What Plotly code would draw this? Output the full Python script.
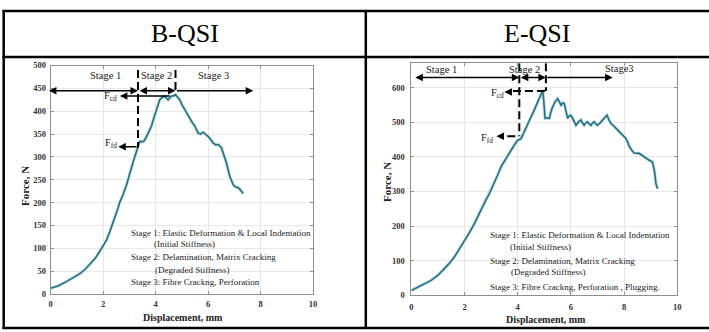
import plotly.graph_objects as go

W, H = 709, 332

# ---------------- data ----------------
b_disp = [0, 0.3, 0.6, 0.85, 1.1, 1.3, 1.49, 1.7, 1.87, 2.0, 2.13, 2.25, 2.38, 2.5, 2.57, 2.63,
          2.76, 2.9, 3.02, 3.15, 3.33, 3.4, 3.5, 3.58, 3.7, 3.84, 3.95, 4.03, 4.16, 4.25, 4.35,
          4.42, 4.48, 4.55, 4.6, 4.7, 4.76, 4.85, 4.92, 5.0, 5.11, 5.2, 5.3, 5.4, 5.5, 5.62,
          5.72, 5.81, 5.9, 6.0, 6.1, 6.2, 6.3, 6.39, 6.51, 6.6, 6.7, 6.83, 6.96, 7.05, 7.11,
          7.2, 7.28, 7.34]
b_force = [12.5, 18, 27, 35, 44, 53, 64, 78, 93, 105, 118, 135, 155, 175, 188, 200,
           217, 240, 265, 290, 322, 334, 333, 336, 350, 367, 388, 403, 425, 430, 433,
           428, 425, 430, 433, 434, 436, 430, 425, 415, 403, 393, 385, 375, 367, 352,
           350, 354, 350, 345, 338, 330, 326, 327, 320, 305, 287, 257, 239, 234, 234,
           230, 224, 220]

e_disp = [0, 0.3, 0.74, 1.0, 1.24, 1.4, 1.62, 1.8, 2.0, 2.2, 2.37, 2.5, 2.68, 2.8, 2.93, 3.1,
          3.25, 3.37, 3.55, 3.75, 3.9, 4.0, 4.06, 4.12, 4.2, 4.37, 4.5, 4.62, 4.75, 4.88, 4.94,
          4.98, 5.03, 5.1, 5.19, 5.25, 5.31, 5.4, 5.5, 5.56, 5.63, 5.7, 5.75, 5.82, 5.88, 5.94,
          6.0, 6.1, 6.19, 6.28, 6.38, 6.45, 6.5, 6.57, 6.63, 6.7, 6.76, 6.82, 6.88, 6.94, 7.0,
          7.1, 7.19, 7.28, 7.36, 7.44, 7.51, 7.6, 7.7, 7.82, 7.9, 7.95, 8.07, 8.15, 8.2, 8.3,
          8.38, 8.57, 8.65, 8.76, 8.85, 8.95, 9.07, 9.14, 9.2, 9.26]
e_force = [14, 25, 43, 58, 77, 90, 111, 133, 159, 183, 207, 228, 255, 275, 292, 320,
           348, 371, 395, 419, 437, 448, 450, 452, 465, 496, 515, 535, 558, 583, 592,
           560, 511, 512, 511, 530, 544, 558, 568, 560, 549, 556, 554, 530, 511, 518,
           520, 506, 491, 500, 506, 496, 491, 498, 501, 494, 491, 498, 501, 495, 491,
           498, 506, 512, 520, 505, 496, 490, 482, 472, 468, 462, 453, 440, 429, 418,
           411, 410, 405, 400, 395, 390, 385, 361, 323, 308]

headers = ["B-QSI", "E-QSI"]
x_ticks = [0, 2, 4, 6, 8, 10]
b_y_ticks = [0, 50, 100, 150, 200, 250, 300, 350, 400, 450, 500]
e_y_ticks = [0, 100, 200, 300, 400, 500, 600]
b_notes = ["Stage 1: Elastic Deformation & Local Indentation", "(Initial Stiffness)",
           "Stage 2: Delamination, Matrix Cracking", "(Degraded Stiffness)",
           "Stage 3: Fibre Crackng, Perforation"]
e_notes = ["Stage 1: Elastic Deformation & Local Indentation", "(Initial Stiffness)",
           "Stage 2: Delamination, Matrix Cracking", "(Degraded Stiffness)",
           "Stage 3: Fibre Crackng, Perforation , Plugging."]

SERIF = "Liberation Serif, Times New Roman, serif"
LINE = "#2c6f80"

def px(x):
    return x / W

def py(y):
    return 1 - y / H

fig = go.Figure()
for xs, ys, xa, ya in [(b_disp, b_force, "x", "y"), (e_disp, e_force, "x2", "y2")]:
    fig.add_trace(go.Scatter(x=xs, y=ys, xaxis=xa, yaxis=ya, mode="lines",
                             line=dict(color="#b9e0e8", width=3.2), hoverinfo="skip",
                             showlegend=False))
    fig.add_trace(go.Scatter(x=xs, y=ys, xaxis=xa, yaxis=ya, mode="lines",
                             line=dict(color=LINE, width=1.6), showlegend=False))

tickfont = dict(family=SERIF, size=8.5, color="#333", weight="bold")
axis_common = dict(showgrid=True, gridcolor="#e2e2e2", gridwidth=0.8, zeroline=False,
                   showline=True, linecolor="#8e8e8e", linewidth=1, mirror="ticks",
                   ticks="inside", ticklen=3, tickcolor="#8e8e8e", tickfont=tickfont,
                   automargin=False)

fig.update_layout(
    template="none",
    width=W, height=H, autosize=False,
    margin=dict(l=0, r=0, t=0, b=0, pad=0),
    paper_bgcolor="white", plot_bgcolor="white", showlegend=False,
    xaxis=dict(domain=[px(50.6), px(313)], range=[0, 10], tickvals=x_ticks,
               anchor="y", ticklabelstandoff=2, **axis_common),
    yaxis=dict(domain=[py(294), py(65.5)], range=[0, 500], tickvals=b_y_ticks,
               anchor="x", ticklabelstandoff=2, **axis_common),
    xaxis2=dict(domain=[px(411.4), px(677.2)], range=[0, 10], tickvals=x_ticks,
                anchor="y2", ticklabelstandoff=3, **axis_common),
    yaxis2=dict(domain=[py(295.3), py(63.3)], range=[0, 670], tickvals=e_y_ticks,
                anchor="x2", ticklabelstandoff=4, **axis_common),
)

shapes = []
tl = dict(color="black", width=2.5)
shapes += [
    dict(type="line", xref="paper", yref="paper", x0=px(2.5), x1=1, y0=py(11), y1=py(11), line=tl),
    dict(type="line", xref="paper", yref="paper", x0=px(2.5), x1=1, y0=py(57), y1=py(57), line=tl),
    dict(type="line", xref="paper", yref="paper", x0=px(2.5), x1=1, y0=py(328), y1=py(328), line=tl),
    dict(type="line", xref="paper", yref="paper", x0=px(3.7), x1=px(3.7), y0=py(10), y1=py(329), line=tl),
    dict(type="line", xref="paper", yref="paper", x0=px(365.8), x1=px(365.8), y0=py(10), y1=py(329), line=tl),
]
dash = dict(color="black", width=2, dash="8px,4px")
shapes += [
    dict(type="line", xref="x", yref="y", x0=3.33, x1=3.33, y0=490, y1=320, line=dash),
    dict(type="line", xref="x", yref="y", x0=4.76, x1=4.76, y0=490, y1=437, line=dash),
    dict(type="line", xref="x2", yref="y2", x0=4.06, x1=4.06, y0=670, y1=459, line=dash),
    dict(type="line", xref="x2", yref="y2", x0=5.06, x1=5.06, y0=670, y1=590, line=dash),
    dict(type="line", xref="x2", yref="y2", x0=3.82, x1=5.06, y0=590, y1=590, line=dash),
    dict(type="line", xref="x2", yref="y2", x0=3.61, x1=4.06, y0=459, y1=459, line=dash),
]
fig.update_layout(shapes=shapes)

ann = []
for txt, cx in zip(headers, [185, 537]):
    ann.append(dict(text=txt, xref="paper", yref="paper", x=px(cx), y=py(33),
                    showarrow=False, xanchor="center", yanchor="middle",
                    font=dict(family=SERIF, size=26, color="black")))

lab = dict(family=SERIF, size=10, color="#222", weight="bold")
ann.append(dict(text="Displacement, mm", xref="paper", yref="paper", x=px(183), y=py(317),
                showarrow=False, xanchor="center", yanchor="middle", font=lab))
ann.append(dict(text="Displacement, mm", xref="paper", yref="paper", x=px(546), y=py(319),
                showarrow=False, xanchor="center", yanchor="middle", font=lab))
lab_v = dict(family=SERIF, size=11, color="#222", weight="bold")
ann.append(dict(text="Force, N", xref="paper", yref="paper", x=px(25), y=py(186), textangle=-90,
                showarrow=False, xanchor="center", yanchor="middle", font=lab_v))
ann.append(dict(text="Force, N", xref="paper", yref="paper", x=px(387), y=py(182), textangle=-90,
                showarrow=False, xanchor="center", yanchor="middle", font=lab_v))

st = dict(family=SERIF, size=10.5, color="#222")
for txt, cx, cy in [("Stage 1", 106, 75), ("Stage 2", 156, 75), ("Stage 3", 214, 75),
                    ("Stage 1", 441, 70), ("Stage 2", 524, 70), ("Stage3", 619, 68)]:
    ann.append(dict(text=txt, xref="paper", yref="paper", x=px(cx), y=py(cy),
                    showarrow=False, xanchor="center", yanchor="middle", font=st))

def arrow(xr, yr, x0, y0, x1, y1, both=False):
    d = dict(text="", xref=xr, yref=yr, axref=xr, ayref=yr, x=x1, y=y1, ax=x0, ay=y0,
             showarrow=True, arrowcolor="black", arrowwidth=1.5, arrowhead=2, arrowsize=1)
    if both:
        d.update(arrowside="end+start", startarrowhead=2, startarrowsize=1)
    return d

ann += [
    arrow("x", "y", -0.12, 445, 3.33, 445, both=True),
    arrow("x", "y", 3.33, 445, 4.76, 445, both=True),
    arrow("x", "y", 4.76, 445, 7.72, 445),
    arrow("x", "y", 4.6, 433, 2.64, 433),
    arrow("x", "y", 3.33, 322, 2.58, 322),
    arrow("x2", "y2", 0.09, 629, 4.06, 629, both=True),
    arrow("x2", "y2", 4.06, 629, 5.06, 629, both=True),
    arrow("x2", "y2", 5.06, 629, 7.57, 629),
    arrow("x2", "y2", 3.8, 587, 3.5, 587),
    arrow("x2", "y2", 3.48, 459, 3.2, 459),
]

fl = dict(family=SERIF, size=10.5, color="#222")
for txt, cx, cy in [("F<sub>cd</sub>", 110, 96), ("F<sub>fd</sub>", 111, 143),
                    ("F<sub>cd</sub>", 497, 94), ("F<sub>fd</sub>", 487, 138)]:
    ann.append(dict(text=txt, xref="paper", yref="paper", x=px(cx), y=py(cy),
                    showarrow=False, xanchor="center", yanchor="middle", font=fl))

nf = dict(family=SERIF, size=9, color="#222")
b_pos = [(129.3, 232.7), (151.7, 244), (129.3, 256.7), (153.3, 269.5), (129.3, 281.7)]
e_pos = [(488, 235), (508, 247), (488, 260.7), (509, 272), (488, 286.5)]
for notes, pos in [(b_notes, b_pos), (e_notes, e_pos)]:
    for txt, (x, y) in zip(notes, pos):
        ann.append(dict(text=txt, xref="paper", yref="paper", x=px(x), y=py(y),
                        showarrow=False, xanchor="left", yanchor="middle", font=nf))

fig.update_layout(annotations=ann)
fig.write_html("out.html", config={"displayModeBar": False, "staticPlot": True},
               post_script="document.body.style.margin='0';document.body.style.padding='0';"
                           "document.body.style.overflow='hidden';")
